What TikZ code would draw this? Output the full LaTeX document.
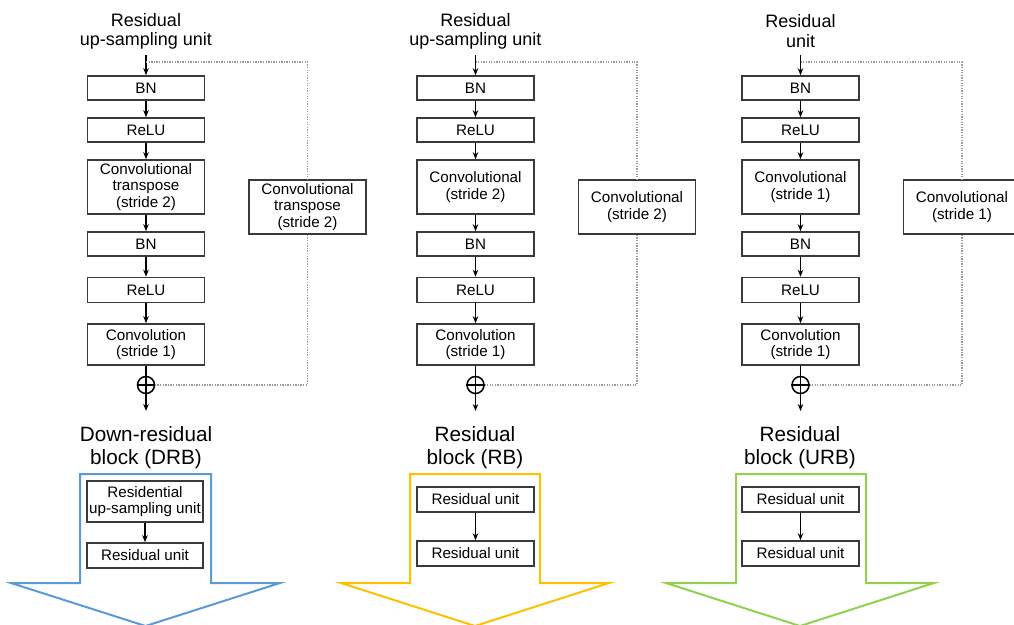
\documentclass[tikz,border=0pt]{standalone}
\usepackage{fontspec}
\setmainfont{Liberation Sans}
\usetikzlibrary{arrows.meta}

\definecolor{boxline}{HTML}{3A3A3A}
\definecolor{skipline}{HTML}{9A9A9A}
\definecolor{drbblue}{HTML}{5B9BD5}
\definecolor{rbyellow}{HTML}{FFC000}
\definecolor{urbgreen}{HTML}{92D050}

\tikzset{
  layer/.style={draw=boxline, line width=1.6pt, fill=white, minimum width=117pt,
    inner sep=0pt, align=center, font=\fontsize{15.2}{16.8}\selectfont},
  flow/.style={line width=1.5pt, -{Stealth[length=7pt,width=5.5pt]}},
  plainflow/.style={line width=1.5pt},
  skip/.style={draw=skipline, line width=1.2pt, dash pattern=on 1.3pt off 1.3pt},
  heading/.style={align=center, font=\fontsize{18}{19.2}\selectfont, inner sep=0pt},
  blockhead/.style={align=center, font=\fontsize{20.7}{23}\selectfont, inner sep=0pt},
  blockarrow/.style={line width=2pt, line join=miter},
  adder/.style={circle, draw=black, line width=1.5pt, minimum size=17pt, inner sep=0pt},
}

% One residual unit column: #1 prefix, #2 column x, #3 heading,
% #4 main convolution text, #5 shortcut x, #6 shortcut text
\newcommand{\resunit}[6]{%
  \node[heading] (#1-head) at (#2,31) {#3};
  \coordinate (#1-in) at (#2,55);
  \node[layer, minimum height=24pt] (#1-bn1) at (#2,88) {BN};
  \node[layer, minimum height=24pt] (#1-relu1) at (#2,130) {ReLU};
  \node[layer, minimum height=54pt] (#1-conv1) at (#2,187) {#4};
  \node[layer, minimum height=24pt] (#1-bn2) at (#2,244) {BN};
  \node[layer, minimum height=25pt] (#1-relu2) at (#2,290) {ReLU};
  \node[layer, minimum height=41pt] (#1-conv2) at (#2,344.5) {Convolution\\(stride 1)};
  \node[adder] (#1-add) at (#2,385) {};
  \coordinate (#1-out) at (#2,411);
  \coordinate (#1-split) at (#2,62);
  \node[layer, minimum height=54pt] (#1-side) at (#5,207) {#6};
  \draw[flow] (#1-in) -- (#1-bn1.north);
  \draw[flow] (#1-bn1) -- (#1-relu1);
  \draw[flow] (#1-relu1) -- (#1-conv1);
  \draw[flow] (#1-conv1) -- (#1-bn2);
  \draw[flow] (#1-bn2) -- (#1-relu2);
  \draw[flow] (#1-relu2) -- (#1-conv2);
  \draw[plainflow] (#1-conv2.south) -- (#1-add.north);
  \draw[line width=1.5pt] (#1-add.north) -- (#1-add.south) (#1-add.west) -- (#1-add.east);
  \draw[flow] (#1-add.south) -- (#1-out);
  \draw[skip] (#1-split) -| (#1-side.north);
  \draw[skip] (#1-side.south) |- (#1-add.east);
}

\begin{document}
\begin{tikzpicture}[x=1pt, y=-1pt]
  \useasboundingbox (0,0) rectangle (1014,624);
  \clip (0,0) rectangle (1014,624);

  % residual unit columns
  \resunit{up}{146}{Residual\\up-sampling unit}{Convolutional\\transpose\\(stride 2)}{307.5}{Convolutional\\transpose\\(stride 2)}
  \resunit{dn}{475.5}{Residual\\up-sampling unit}{Convolutional\\(stride 2)}{637}{Convolutional\\(stride 2)}
  \resunit{id}{800.5}{Residual\\unit}{Convolutional\\(stride 1)}{962}{Convolutional\\(stride 1)}

  % block outlines
  \draw[blockarrow, drbblue] (80,474) -- (211,474) -- (211,583) -- (280,583)
    -- (145.5,626) -- (11,583) -- (80,583) -- cycle;
  \draw[blockarrow, rbyellow] (410,474) -- (540,474) -- (540,583) -- (609,583)
    -- (475,626) -- (341,583) -- (410,583) -- cycle;
  \draw[blockarrow, urbgreen] (736,474) -- (866,474) -- (866,583) -- (934,583)
    -- (800,626) -- (666,583) -- (736,583) -- cycle;

  % block headings
  \node[blockhead] (drb-head) at (146,447.5) {Down-residual\\block (DRB)};
  \node[blockhead] (rb-head) at (475,447.5) {Residual\\block (RB)};
  \node[blockhead] (urb-head) at (800,447.5) {Residual\\block (URB)};

  % block contents
  \node[layer, minimum width=116pt, minimum height=41pt] (drb-a) at (145,501.5) {Residential\\up-sampling unit};
  \node[layer, minimum width=116pt, minimum height=25pt] (drb-b) at (145,555.5) {Residual unit};
  \draw[flow] (drb-a) -- (drb-b);

  \node[layer, minimum height=25pt] (rb-a) at (475.5,499.5) {Residual unit};
  \node[layer, minimum height=25pt] (rb-b) at (475.5,553.5) {Residual unit};
  \draw[flow] (rb-a) -- (rb-b);

  \node[layer, minimum height=25pt] (urb-a) at (800.5,499.5) {Residual unit};
  \node[layer, minimum height=25pt] (urb-b) at (800.5,553.5) {Residual unit};
  \draw[flow] (urb-a) -- (urb-b);
\end{tikzpicture}
\end{document}
